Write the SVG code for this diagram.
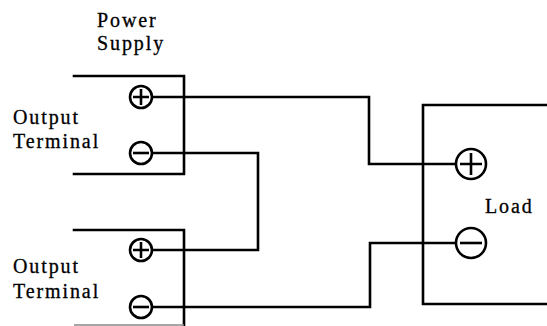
<svg xmlns="http://www.w3.org/2000/svg" width="547" height="326" viewBox="0 0 547 326">
<style>
.t{font-family:"Liberation Serif","Times New Roman",serif;font-size:20px;letter-spacing:1.9px;fill:#000;stroke:#000;stroke-width:0.3}
.ln{fill:none;stroke:#000;stroke-width:2.6;stroke-linecap:square}
.term{fill:#fff;stroke:#000;stroke-width:2.6}
.sg{stroke:#000;stroke-width:2.6}
</style>
<rect width="547" height="326" fill="#fff"/>
<g id="connectors">
<polyline class="ln" points="152,97 369,97 369,164 456,164"/>
<polyline class="ln" points="152,153 258,153 258,250 152,250"/>
<polyline class="ln" points="152,307 370,307 370,243 456,243"/>
</g>
<g id="supply1">
<polyline class="ln" points="74,76 184,76 184,174 74,174"/>
<text class="t" x="97" y="27">Power</text>
<text class="t" x="97" y="50">Supply</text>
<text class="t" x="13" y="124">Output</text>
<text class="t" x="13" y="148">Terminal</text>
</g>
<g id="supply1-plus">
<circle class="term" cx="141" cy="97" r="11"/>
<path class="sg" d="M133,97H149M141,89V105"/>
</g>
<g id="supply1-minus">
<circle class="term" cx="141" cy="153" r="11"/>
<path class="sg" d="M133,153H149"/>
</g>
<g id="supply2">
<polyline class="ln" points="74,230 184,230 184,326"/>
<line x1="74" y1="325" x2="184" y2="325" stroke="#888" stroke-width="1.5"/>
<text class="t" x="13" y="273">Output</text>
<text class="t" x="13" y="298">Terminal</text>
</g>
<g id="supply2-plus">
<circle class="term" cx="141" cy="250" r="11"/>
<path class="sg" d="M133,250H149M141,242V258"/>
</g>
<g id="supply2-minus">
<circle class="term" cx="141" cy="307" r="11"/>
<path class="sg" d="M133,307H149"/>
</g>
<g id="load">
<polyline class="ln" points="549,105 423,105 423,304 549,304"/>
<text class="t" x="485" y="213">Load</text>
</g>
<g id="load-plus">
<circle class="term" cx="471" cy="164" r="15"/>
<path class="sg" d="M460,164H482M471,153V175"/>
</g>
<g id="load-minus">
<circle class="term" cx="471" cy="243" r="15"/>
<path class="sg" d="M460,243H482"/>
</g>
</svg>
